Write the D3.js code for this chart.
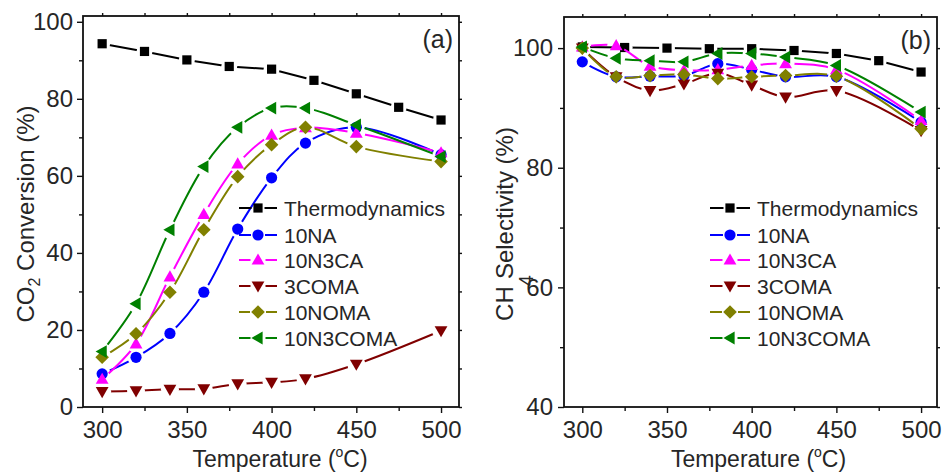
<!DOCTYPE html>
<html>
<head>
<meta charset="utf-8">
<script src="https://cdn.jsdelivr.net/npm/d3@7/dist/d3.min.js"></script>
<style>
  html, body { margin: 0; padding: 0; background: #fff; }
  svg { display: block; }
  text { font-family: "Liberation Sans", Arial, sans-serif; fill: #262626; }
</style>
</head>
<body>
<div id="chart"></div>
<script>
// Temperatures (°C)
const tempThermo = [300, 325, 350, 375, 400, 425, 450, 475, 500];
const tempSample = [300, 320, 340, 360, 380, 400, 420, 450, 500];

// Series names, colours and symbols (legend order)
const seriesNames = ["Thermodynamics", "10NA", "10N3CA", "3COMA", "10NOMA", "10N3COMA"];
const seriesColors = ["#000000", "#0000ff", "#ff00ff", "#800000", "#808000", "#008000"];
const seriesSymbols = ["square", "circle", "triangleUp", "triangleDown", "diamond", "triangleLeft"];

// (a) CO2 conversion (%)
const convThermo   = [94.3, 92.3, 90.1, 88.4, 87.7, 84.8, 81.3, 77.8, 74.5];
const conv10NA     = [8.6, 12.9, 19.1, 29.8, 46.2, 59.5, 68.5, 72.6, 65.5];
const conv10N3CA   = [7.2, 16.4, 33.8, 50.0, 63.1, 70.6, 72.5, 71.1, 66.0];
const conv3COMA    = [4.0, 4.2, 4.6, 4.7, 6.0, 6.4, 7.3, 11.1, 19.8];
const conv10NOMA   = [12.9, 19.0, 29.8, 46.0, 59.8, 68.1, 72.6, 67.6, 63.7];
const conv10N3COMA = [14.4, 26.8, 46.0, 62.4, 72.6, 77.6, 77.6, 73.2, 65.0];

// (b) CH4 selectivity (%)
const selThermo   = [100.2, 100.1, 100.0, 99.9, 99.9, 99.6, 99.1, 97.9, 96.0];
const sel10NA     = [97.7, 95.2, 95.3, 95.4, 97.4, 96.4, 95.2, 95.2, 87.6];
const sel10N3CA   = [100.2, 100.4, 97.0, 96.3, 96.4, 97.1, 97.4, 96.4, 87.9];
const sel3COMA    = [100.0, 95.2, 92.9, 94.0, 95.8, 93.8, 91.8, 92.9, 86.2];
const sel10NOMA   = [100.0, 95.2, 95.4, 95.6, 94.9, 95.2, 95.4, 95.3, 86.5];
const sel10N3COMA = [100.2, 98.3, 97.9, 97.7, 99.1, 99.1, 98.5, 97.1, 89.3];

// Axis ticks
const xMajorTicks = [300, 350, 400, 450, 500];
const xMinorTicks = [325, 375, 425, 475];
const yMajorTicksA = [0, 20, 40, 60, 80, 100];
const yMinorTicksA = [10, 30, 50, 70, 90];
const yMajorTicksB = [40, 60, 80, 100];
const yMinorTicksB = [50, 70, 90];

const W = 946, H = 474;
const svg = d3.select("#chart").append("svg").attr("width", W).attr("height", H);

// Marker path builders centred on (0,0)
function symbolPath(kind) {
  switch (kind) {
    case "square": { const s = 4.6; return `M${-s},${-s}H${s}V${s}H${-s}Z`; }
    case "circle": { const r = 5.6; return `M${r},0A${r},${r} 0 1,1 ${-r},0A${r},${r} 0 1,1 ${r},0Z`; }
    case "triangleUp": return "M0,-6.6L6.4,4.6L-6.4,4.6Z";
    case "triangleDown": return "M0,6.6L6.4,-4.6L-6.4,-4.6Z";
    case "triangleLeft": return "M-6.6,0L4.6,-6.4L4.6,6.4Z";
    case "diamond": return "M0,-6.8L6.8,0L0,6.8L-6.8,0Z";
  }
}
const gapRadius = { square: 8, circle: 8.5, triangleUp: 9, triangleDown: 9, triangleLeft: 9, diamond: 9.5 };

const defs = svg.append("defs");

function drawPanel(cfg) {
  const x = d3.scaleLinear().domain(cfg.xDomain).range([cfg.left, cfg.right]);
  const y = d3.scaleLinear().domain(cfg.yDomain).range([cfg.bottom, cfg.top]);
  const g = svg.append("g");

  // axes: major + minor ticks outward on bottom/left, short mirror ticks top/right
  const bottomMajor = g.append("g").attr("transform", `translate(0,${cfg.bottom})`)
    .call(d3.axisBottom(x).tickValues(xMajorTicks).tickSize(6).tickPadding(8).tickFormat(d3.format("d")));
  const bottomMinor = g.append("g").attr("transform", `translate(0,${cfg.bottom})`)
    .call(d3.axisBottom(x).tickValues(xMinorTicks).tickSize(4).tickFormat(""));
  const leftMajor = g.append("g").attr("transform", `translate(${cfg.left},0)`)
    .call(d3.axisLeft(y).tickValues(cfg.yMajor).tickSize(6).tickPadding(cfg.yPad).tickFormat(d3.format("d")));
  const leftMinor = g.append("g").attr("transform", `translate(${cfg.left},0)`)
    .call(d3.axisLeft(y).tickValues(cfg.yMinor).tickSize(4).tickFormat(""));
  const topT = g.append("g").attr("transform", `translate(0,${cfg.top})`)
    .call(d3.axisTop(x).tickValues(xMajorTicks.concat(xMinorTicks)).tickSize(3).tickFormat(""));
  const rightT = g.append("g").attr("transform", `translate(${cfg.right},0)`)
    .call(d3.axisRight(y).tickValues(cfg.yMajor.concat(cfg.yMinor).filter(v => y(v) >= cfg.top)).tickSize(3).tickFormat(""));

  [bottomMajor, bottomMinor, leftMajor, leftMinor, topT, rightT].forEach(a => {
    a.select(".domain").remove();
    a.selectAll("line").attr("stroke", "#111").attr("stroke-width", 1.4);
    a.selectAll("text").attr("font-size", 24).attr("fill", "#262626")
      .style("font-family", '"Liberation Sans", Arial, sans-serif');
  });

  // plot frame
  g.append("rect")
    .attr("x", cfg.left).attr("y", cfg.top)
    .attr("width", cfg.right - cfg.left).attr("height", cfg.bottom - cfg.top)
    .attr("fill", "none").attr("stroke", "#111").attr("stroke-width", 1.8);

  // series lines (with gaps around symbols) and symbols
  cfg.series.forEach((vals, i) => {
    const xs = i === 0 ? tempThermo : tempSample;
    const pts = xs.map((t, k) => [x(t), y(vals[k])]);
    const sym = seriesSymbols[i];
    const maskId = `${cfg.id}-mask-${i}`;
    const mask = defs.append("mask").attr("id", maskId).attr("maskUnits", "userSpaceOnUse")
      .attr("x", 0).attr("y", 0).attr("width", W).attr("height", H);
    mask.append("rect").attr("width", W).attr("height", H).attr("fill", "#fff");
    mask.selectAll("circle").data(pts).join("circle")
      .attr("cx", d => d[0]).attr("cy", d => d[1]).attr("r", gapRadius[sym]).attr("fill", "#000");

    const line = d3.line().curve(i === 0 ? d3.curveLinear : d3.curveCatmullRom.alpha(0.5));
    g.append("path").attr("d", line(pts))
      .attr("fill", "none").attr("stroke", seriesColors[i]).attr("stroke-width", 2)
      .attr("mask", `url(#${maskId})`);

    g.selectAll(null).data(pts).join("path")
      .attr("transform", d => `translate(${d[0]},${d[1]})`)
      .attr("d", symbolPath(sym)).attr("fill", seriesColors[i]);
  });

  // legend
  const lg = g.append("g");
  seriesNames.forEach((name, i) => {
    const ly = cfg.legendY[i];
    const sym = seriesSymbols[i];
    const gap = gapRadius[sym] - 1.5;
    lg.append("line").attr("x1", cfg.legendX0).attr("x2", cfg.legendXm - gap)
      .attr("y1", ly).attr("y2", ly).attr("stroke", seriesColors[i]).attr("stroke-width", 2);
    lg.append("line").attr("x1", cfg.legendXm + gap).attr("x2", cfg.legendX1)
      .attr("y1", ly).attr("y2", ly).attr("stroke", seriesColors[i]).attr("stroke-width", 2);
    lg.append("path").attr("transform", `translate(${cfg.legendXm},${ly})`)
      .attr("d", symbolPath(sym)).attr("fill", seriesColors[i]);
    lg.append("text").attr("x", cfg.legendText).attr("y", ly + 7.5)
      .attr("font-size", 21).text(name);
  });

  // panel tag
  g.append("text").attr("x", cfg.right - 6).attr("y", cfg.top + 32)
    .attr("text-anchor", "end").attr("font-size", 25).text(cfg.tag);

  // x title
  const xt = g.append("text").attr("x", (cfg.left + cfg.right) / 2 + cfg.xTitleShift).attr("y", 467)
    .attr("text-anchor", "middle").attr("font-size", 23);
  xt.append("tspan").text("Temperature (");
  xt.append("tspan").attr("font-size", 14).attr("dy", -10).text("o");
  xt.append("tspan").attr("dy", 10).text("C)");

  return { x, y };
}

const legendRows = [208, 235, 260, 286, 312, 338];

drawPanel({
  id: "a", left: 83, right: 459, top: 16, bottom: 407,
  xDomain: [288.7, 510.6], yDomain: [0, 101.5],
  yMajor: yMajorTicksA, yMinor: yMinorTicksA, yPad: 4,
  series: [convThermo, conv10NA, conv10N3CA, conv3COMA, conv10NOMA, conv10N3COMA],
  legendX0: 239, legendXm: 258, legendX1: 277, legendText: 284, legendY: legendRows,
  tag: "(a)", xTitleShift: 9
});

drawPanel({
  id: "b", left: 564, right: 937, top: 17, bottom: 407,
  xDomain: [289.2, 509.4], yDomain: [40, 105.2],
  yMajor: yMajorTicksB, yMinor: yMinorTicksB, yPad: 5,
  series: [selThermo, sel10NA, sel10N3CA, sel3COMA, sel10NOMA, sel10N3COMA],
  legendX0: 710, legendXm: 730, legendX1: 750, legendText: 757, legendY: legendRows,
  tag: "(b)", xTitleShift: 8
});

// y-axis titles
const ya = svg.append("text").attr("transform", "translate(34,214) rotate(-90)")
  .attr("text-anchor", "middle").attr("font-size", 24);
ya.append("tspan").text("CO");
ya.append("tspan").attr("font-size", 16).attr("dy", 6).text("2");
ya.append("tspan").attr("dy", -6).text(" Conversion (%)");

const yb = svg.append("text").attr("transform", "translate(513,224) rotate(-90)")
  .attr("text-anchor", "middle").attr("font-size", 24);
yb.append("tspan").text("CH");
yb.append("tspan").attr("font-size", 20).attr("dy", 20).attr("dx", 0).text("4");
yb.append("tspan").attr("dy", -20).attr("dx", -4).text("Selectivity (%)");
</script>
</body>
</html>
